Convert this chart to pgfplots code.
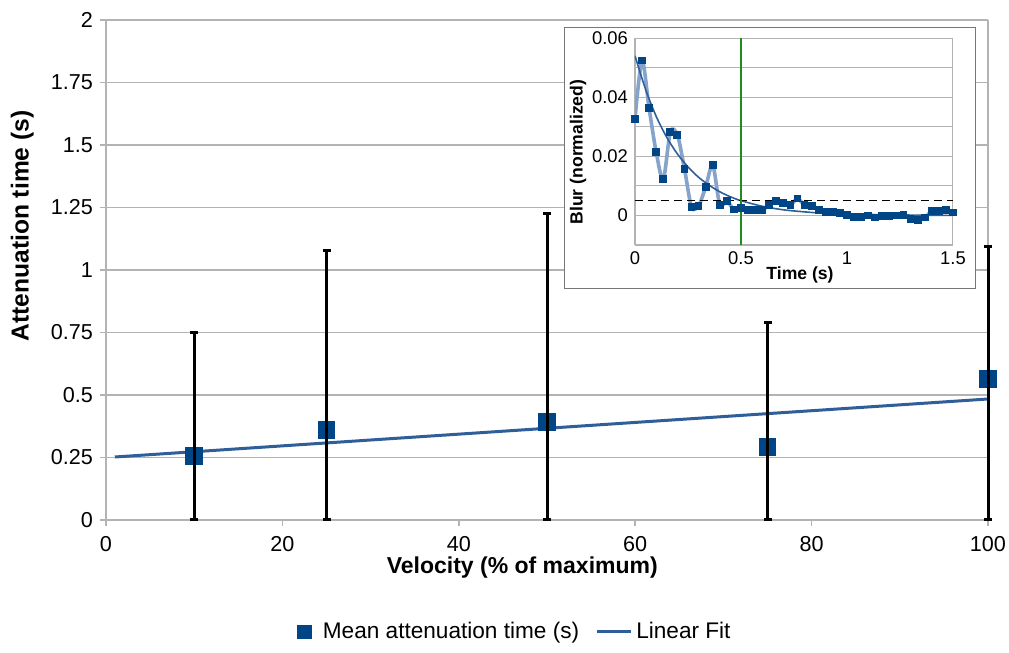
\documentclass[border=0pt]{standalone}
\usepackage{fontspec}
\setmainfont{Liberation Sans}
\usepackage{pgfplots}
\pgfplotsset{compat=1.18}
\definecolor{meanblue}{HTML}{004586}
\definecolor{fitblue}{HTML}{2F5E98}
\definecolor{gridgray}{HTML}{B3B3B3}
\definecolor{framegray}{HTML}{777777}
\definecolor{blurline}{HTML}{86A3CC}
\definecolor{markgreen}{HTML}{1E8C1E}

% inset data: blur vs time, one sample every 1/30 s
\pgfplotstableread{
t blur
0.0000 0.0327
0.0333 0.0524
0.0667 0.0362
0.1000 0.0214
0.1333 0.0122
0.1667 0.0282
0.2000 0.0272
0.2333 0.0158
0.2667 0.0028
0.3000 0.0033
0.3333 0.0096
0.3667 0.0170
0.4000 0.0036
0.4333 0.0048
0.4667 0.0020
0.5000 0.0025
0.5333 0.0018
0.5667 0.0018
0.6000 0.0019
0.6333 0.0034
0.6667 0.0048
0.7000 0.0043
0.7333 0.0035
0.7667 0.0057
0.8000 0.0034
0.8333 0.0032
0.8667 0.0019
0.9000 0.0011
0.9333 0.0011
0.9667 0.0008
1.0000 0.0002
1.0333 -0.0006
1.0667 -0.0006
1.1000 0.0000
1.1333 -0.0007
1.1667 -0.0003
1.2000 -0.0002
1.2333 0.0000
1.2667 0.0002
1.3000 -0.0012
1.3333 -0.0015
1.3667 -0.0007
1.4000 0.0015
1.4333 0.0015
1.4667 0.0019
1.5000 0.0010
}\blurdata

% main data: velocity, mean, error up, error down
\pgfplotstableread{
v mean up down
10  0.256 0.492 0.256
25  0.360 0.716 0.360
50  0.392 0.832 0.392
75  0.292 0.496 0.292
100 0.564 0.528 0.564
}\meandata

\begin{document}
\begin{tikzpicture}
\useasboundingbox (-53pt,-66.5pt) rectangle (451.5pt,260pt);

\begin{axis}[
    at={(0,0)}, anchor=south west,
    scale only axis, width=441pt, height=250pt,
    xmin=0, xmax=100, ymin=0, ymax=2,
    axis x line=bottom, axis y line=left,
    axis line style={gridgray, line width=1pt, -},
    xtick={0,20,40,60,80,100},
    ytick={0,0.25,0.5,0.75,1,1.25,1.5,1.75,2},
    yticklabels={0,0.25,0.5,0.75,1,1.25,1.5,1.75,2},
    ymajorgrids,
    grid style={gridgray, line width=0.8pt},
    tick style={gridgray, line width=0.8pt},
    tick align=outside, major tick length=3pt,
    ticklabel style={font=\fontsize{10.8}{13}\selectfont},
    xticklabel style={yshift=-1.5pt},
    /pgf/number format/assume math mode=true,
    clip=false,
    xlabel={Velocity (\% of maximum)},
    ylabel={Attenuation time (s)},
    every axis x label/.style={at={(axis description cs:0.472,-0.096)}, anchor=center, font=\fontsize{11.5}{14}\selectfont\bfseries},
    every axis y label/.style={at={(axis description cs:-0.095,0.588)}, anchor=center, rotate=90, font=\fontsize{12.3}{14}\selectfont\bfseries},
    legend style={at={(0.465,-0.224)}, anchor=center, draw=none, fill=none,
        legend columns=2, font=\fontsize{11.3}{14}\selectfont,
        /tikz/column 1/.style={column sep=4pt},
        /tikz/column 2/.style={column sep=6pt},
        /tikz/column 3/.style={column sep=0pt}},
]
% right border line at x = 100
\addplot[gridgray, line width=0.8pt, forget plot] coordinates {(100,0) (100,2)};
% linear fit, under the markers
\addplot[fitblue, line width=1.5pt, forget plot] coordinates {(1,0.252) (100,0.484)};
% markers
\addplot[only marks, mark=square*, mark size=4.2pt, color=meanblue, forget plot]
    table[x=v, y=mean] {\meandata};

\addlegendimage{only marks, mark=square*, mark size=3.3pt, color=meanblue}
\addlegendentry{Mean attenuation time (s)}
\addlegendimage{fitblue, line width=1.5pt}
\addlegendentry{Linear Fit}
\end{axis}

% same frame again, only to put the error bars over the markers
\begin{axis}[
    at={(0,0)}, anchor=south west,
    scale only axis, width=441pt, height=250pt,
    xmin=0, xmax=100, ymin=0, ymax=2,
    hide axis, clip=false,
]
\addplot[draw=none, no markers, black, line width=1.5pt,
    error bars/.cd, y dir=both, y explicit,
    error bar style={draw=black, line width=1.5pt},
    error mark options={draw=black, line width=1.5pt, mark size=2pt, rotate=90}]
    table[x=v, y=mean, y error plus=up, y error minus=down] {\meandata};
\end{axis}

\filldraw[fill=white, draw=framegray, line width=0.5pt] (229pt,115.5pt) rectangle (434.5pt,246pt);

\begin{axis}[
    at={(264.5pt,137.5pt)}, anchor=south west,
    scale only axis, width=159pt, height=103.5pt,
    xmin=0, xmax=1.5, ymin=-0.01, ymax=0.06,
    axis x line=bottom, axis y line=left,
    axis line style={gridgray, line width=0.6pt, -},
    xtick={0,0.5,1,1.5}, xticklabels={0,0.5,1,1.5},
    ytick={0,0.02,0.04,0.06}, yticklabels={0,0.02,0.04,0.06},
    minor ytick={-0.01,0.01,0.03,0.05},
    ymajorgrids, yminorgrids,
    grid style={gridgray, line width=0.5pt},
    minor grid style={gridgray, line width=0.5pt},
    major tick length=0pt, minor tick length=0pt,
    scaled y ticks=false,
    ticklabel style={font=\fontsize{9.2}{11}\selectfont},
    xlabel={Time (s)}, ylabel={Blur (normalized)},
    every axis x label/.style={at={(axis description cs:0.519,-0.145)}, anchor=center, font=\fontsize{8.8}{11}\selectfont\bfseries},
    every axis y label/.style={at={(axis description cs:-0.179,0.449)}, anchor=center, rotate=90, font=\fontsize{8.8}{11}\selectfont\bfseries},
]
\addplot[gridgray, line width=0.5pt] coordinates {(1.5,-0.01) (1.5,0.06)};
\addplot[blurline, line width=1.8pt, smooth, mark=square*, mark size=1.7pt,
    mark options={meanblue, solid, line width=0pt}] table[x=t, y=blur] {\blurdata};
% exponential fit, sampled
\addplot[fitblue, line width=0.8pt, smooth] coordinates {
    (0,0.0540) (0.05,0.0426) (0.1,0.0335) (0.15,0.0264) (0.2,0.0208)
    (0.25,0.0164) (0.3,0.0129) (0.35,0.0102) (0.4,0.0080) (0.45,0.0063)
    (0.5,0.0050) (0.6,0.0031) (0.7,0.0019) (0.8,0.0012) (0.9,0.0007)
    (1.0,0.0005) (1.2,0.0002) (1.5,0.0000)
};
\addplot[black, line width=0.8pt, dash pattern=on 4pt off 2.5pt] coordinates {(0,0.005) (1.5,0.005)};
\addplot[markgreen, line width=0.8pt] coordinates {(0.5,-0.01) (0.5,0.06)};
\end{axis}
\end{tikzpicture}
\end{document}
